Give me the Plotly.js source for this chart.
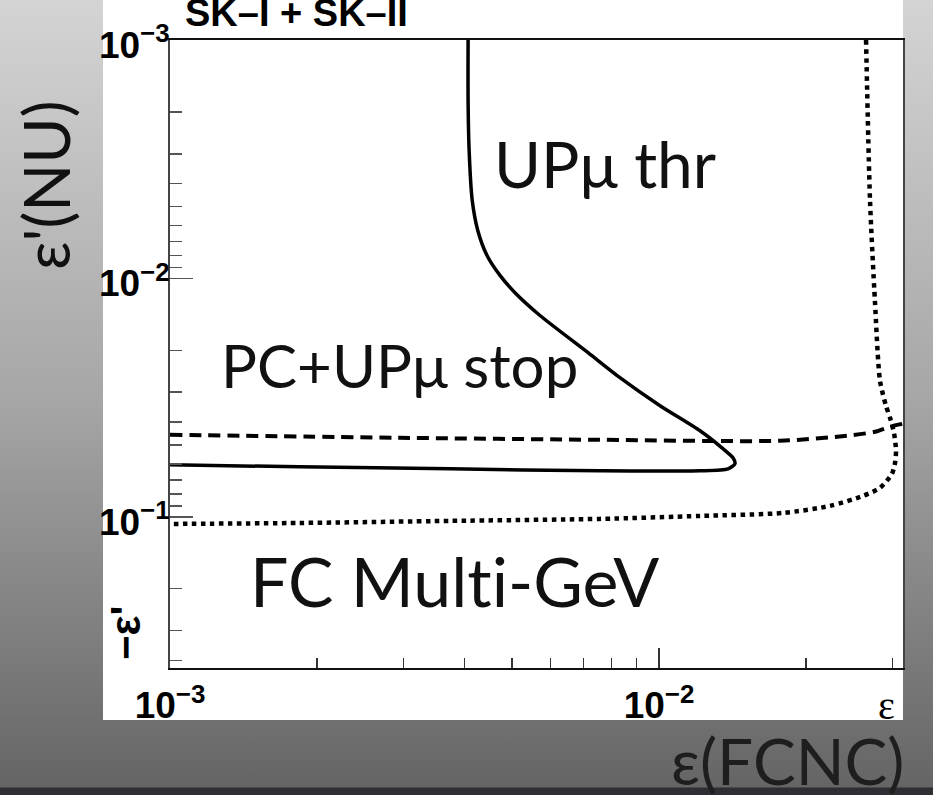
<!DOCTYPE html>
<html>
<head>
<meta charset="utf-8">
<script src="https://cdn.plot.ly/plotly-3.0.1.min.js"></script>
<style>
  html, body { margin: 0; padding: 0; }
  body {
    width: 933px; height: 795px; overflow: hidden; position: relative;
    background: linear-gradient(to bottom, #d4d4d4 0px, #a6a6a6 400px, #656565 787px, #2e2e33 788px, #2e2e33 795px);
  }
  #panel { position: absolute; left: 103px; top: 0; width: 800px; height: 720px; background: #fff; }
  #chart { position: absolute; left: 0; top: 0; width: 933px; height: 795px; }
</style>
</head>
<body>
<div id="panel"></div>
<div id="chart"></div>
<script>
// UPμ threshold contour (solid)
const upmuThrEps  = [0.00407, 0.00407, 0.00409, 0.00415, 0.00426, 0.00445, 0.00473, 0.00507, 0.00571, 0.00716, 0.00832, 0.01005, 0.01213, 0.01345, 0.01417, 0.01430, 0.01384, 0.01213, 0.00757, 0.00374, 0.00184, 0.00100];
const upmuThrEpsP = [0.00100, 0.00179, 0.00290, 0.00470, 0.00629, 0.00801, 0.00971, 0.01145, 0.01430, 0.02047, 0.02606, 0.03417, 0.04352, 0.05130, 0.05650, 0.05988, 0.06284, 0.06407, 0.06407, 0.06284, 0.06163, 0.06046];

// PC + UPμ stopping contour (dashed)
const pcStopEps  = [0.00100, 0.00295, 0.00757, 0.01768, 0.02424, 0.02764, 0.02968, 0.03155];
const pcStopEpsP = [0.04523, 0.04657, 0.04748, 0.04794, 0.04568, 0.04394, 0.04184, 0.04065];

// FC Multi-GeV contour (dotted)
const fcMgevEps  = [0.02651, 0.02701, 0.02764, 0.02831, 0.02912, 0.02968, 0.03024, 0.03053, 0.03039, 0.02995, 0.02831, 0.02614, 0.02237, 0.01794, 0.01213, 0.00757, 0.00374, 0.00184, 0.00100];
const fcMgevEpsP = [0.00100, 0.00470, 0.01237, 0.02683, 0.03417, 0.03838, 0.04437, 0.05282, 0.05930, 0.06596, 0.07553, 0.08162, 0.08991, 0.09620, 0.09904, 0.1019, 0.1039, 0.1060, 0.1070];

// axis ticks
const decadeVals = [0.001, 0.01, 0.1];
const decadeText = ["10<sup>−3</sup>", "10<sup>−2</sup>", "10<sup>−1</sup>"];
const xMinorVals = [0.002, 0.003, 0.004, 0.005, 0.006, 0.007, 0.008, 0.009, 0.02, 0.03];
const yMinorVals = [0.002, 0.003, 0.004, 0.005, 0.006, 0.007, 0.008, 0.009,
                    0.02, 0.03, 0.04, 0.05, 0.06, 0.07, 0.08, 0.09, 0.2, 0.3, 0.4];

const traces = [
  { x: upmuThrEps, y: upmuThrEpsP, mode: 'lines', name: 'UPμ thr',
    line: { color: '#000', width: 3.5, shape: 'spline', smoothing: 0.7 } },
  { x: pcStopEps, y: pcStopEpsP, mode: 'lines', name: 'PC+UPμ stop',
    line: { color: '#000', width: 4, dash: '12px,7px', shape: 'spline', smoothing: 0.7 } },
  { x: fcMgevEps, y: fcMgevEpsP, mode: 'lines', name: 'FC Multi-GeV',
    line: { color: '#000', width: 4.5, dash: '4.5px,4.5px', shape: 'spline', smoothing: 0.7 } }
];

const tickFont = { family: 'Liberation Sans, Arial, sans-serif', size: 37, color: '#000', weight: 'bold' };
const slideFont = (size, color) => ({ family: 'Lato, sans-serif', size: size, color: color || '#111' });

// text placed in plot-relative (paper) coordinates, centred on the given point
function label(text, x, y, font, angle) {
  return { text: text, xref: 'paper', yref: 'paper', x: x, y: y, xanchor: 'center', yanchor: 'middle',
           showarrow: false, font: font, textangle: angle || 0 };
}

const layout = {
  width: 933, height: 795,
  margin: { l: 170, r: 30, t: 40, b: 127 },
  paper_bgcolor: 'rgba(0,0,0,0)',
  plot_bgcolor: '#fff',
  showlegend: false,
  xaxis: {
    type: 'log', range: [-3, -1.501],
    tickmode: 'array', tickvals: decadeVals, ticktext: decadeText,
    ticks: 'inside', ticklen: 20, tickwidth: 1.5, tickcolor: '#333',
    tickfont: tickFont, ticklabelstandoff: 4,
    minor: { tickmode: 'array', tickvals: xMinorVals, ticks: 'inside', ticklen: 10, tickwidth: 1.5, tickcolor: '#333' },
    showline: true, linecolor: '#111', linewidth: 2, mirror: true,
    showgrid: false, zeroline: false
  },
  yaxis: {
    type: 'log', range: [-0.3665, -3],
    tickmode: 'array', tickvals: decadeVals, ticktext: decadeText,
    ticks: 'inside', ticklen: 23, tickwidth: 1.5, tickcolor: '#555',
    tickfont: tickFont, ticklabelstandoff: -9, ticklabelshift: -5,
    minor: { tickmode: 'array', tickvals: yMinorVals, ticks: 'inside', ticklen: 12, tickwidth: 1.5, tickcolor: '#555' },
    showline: true, linecolor: '#444', linewidth: 2, mirror: true,
    showgrid: false, zeroline: false
  },
  annotations: [
    label('UPμ thr', 0.594, 0.804, slideFont(64)),
    label('PC+UPμ stop', 0.3126, 0.4825, slideFont(60)),
    label('FC Mult\u200Ci-GeV', 0.388, 0.140, slideFont(68)),
    label("ε'(NU)", -0.1706, 0.769, slideFont(63), -90),
    label('ε(FCNC)', 0.843, -0.1465, slideFont(64, '#1e1e1e')),
    label('SK–I + SK–II', 0.172, 1.043, { family: 'Liberation Sans, Arial, sans-serif', size: 38, color: '#000', weight: 'bold' }),
    label('ε', 0.977, -0.0605, { family: 'Liberation Serif, Times New Roman, serif', size: 40, color: '#000' }),
    label("−ε'", -0.0614, 0.0557, { family: 'Liberation Sans, Arial, sans-serif', size: 42, color: '#000', weight: 'bold' }, -90)
  ]
};

Plotly.newPlot('chart', traces, layout, { displayModeBar: false, staticPlot: true });
</script>
</body>
</html>
